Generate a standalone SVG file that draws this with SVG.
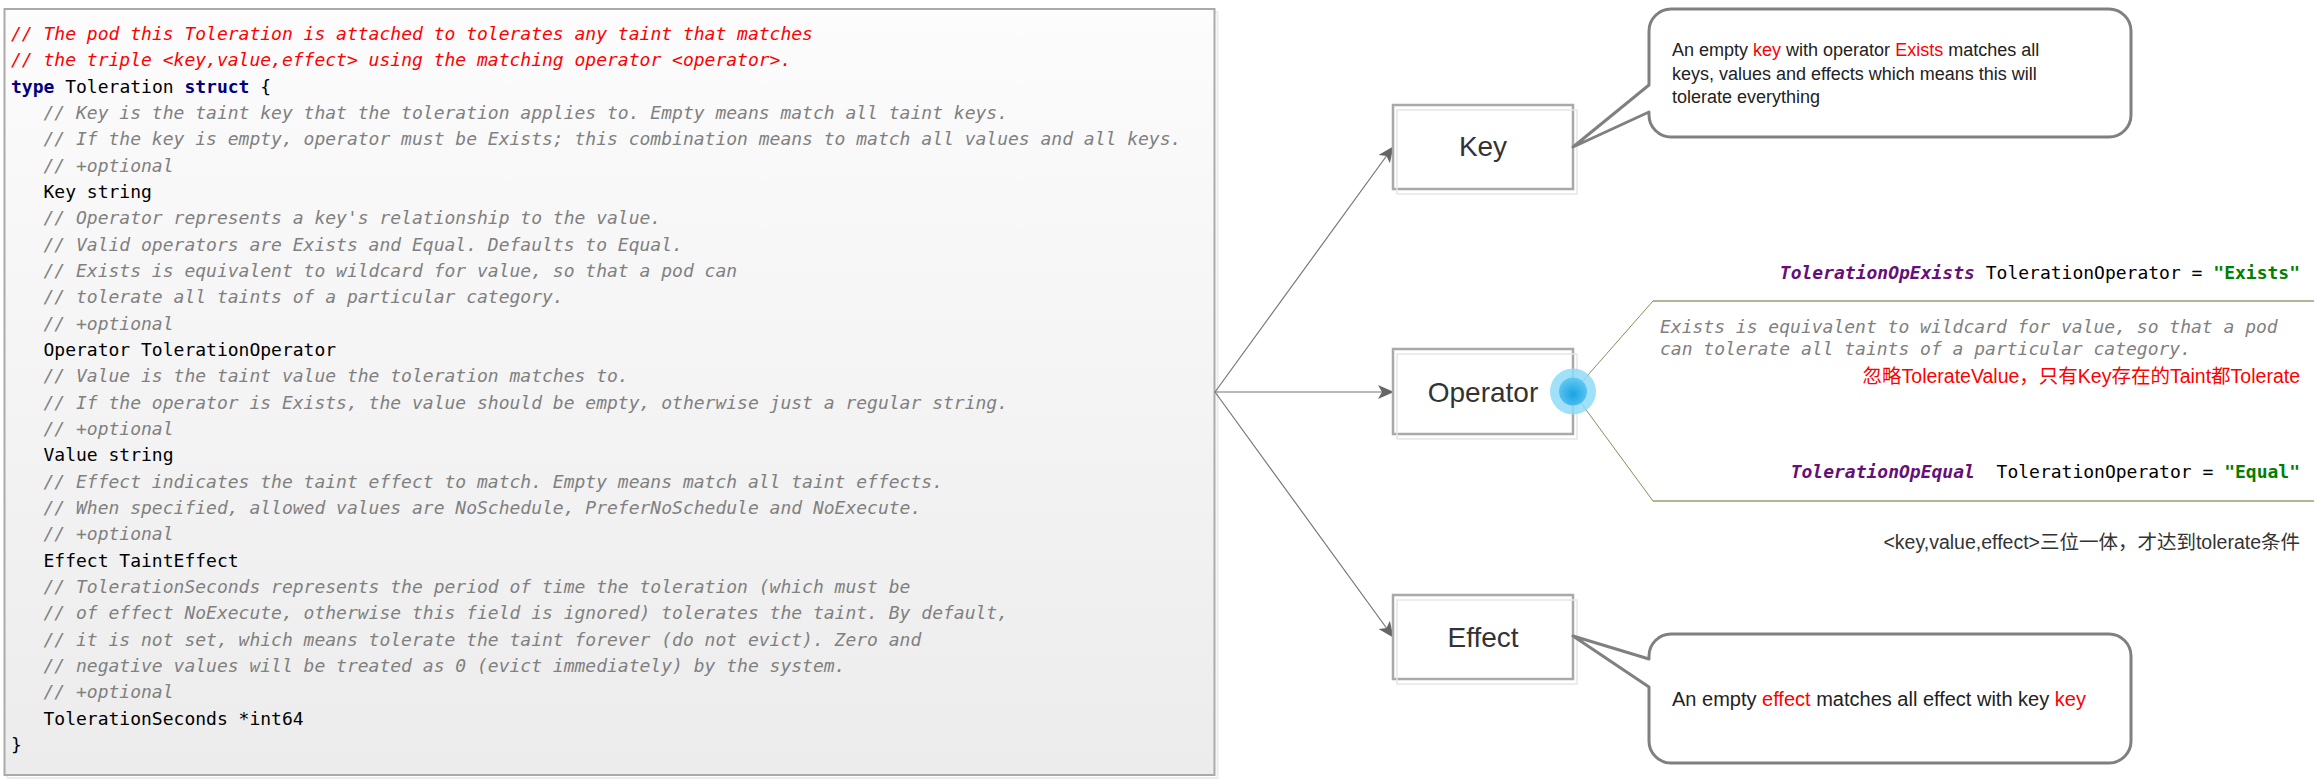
<svg xmlns="http://www.w3.org/2000/svg" width="2314" height="780" viewBox="0 0 2314 780">
<style>
.code{font-family:"DejaVu Sans Mono","Liberation Mono",monospace;font-size:18px;fill:#000}
.red{fill:#ff0000;font-style:italic}
.cm{fill:#808080;font-style:italic}
.kw{fill:#000080;font-weight:bold}
.cst{fill:#660e7a;font-weight:bold;font-style:italic}
.str{fill:#008000;font-weight:bold}
.node{fill:#ffffff;stroke:#a9a9a9;stroke-width:2.5}
.nshadow{fill:none;stroke:#e6e6e6;stroke-width:1.5}
.label{font-family:"Liberation Sans",Arial,sans-serif;font-size:28px;fill:#333333;text-anchor:middle}
.callout{fill:#ffffff;stroke:#808080;stroke-width:3;stroke-linejoin:round}
.ctext{font-family:"Liberation Sans",Arial,sans-serif;font-size:18px;fill:#222222}
.ctext20{font-family:"Liberation Sans",Arial,sans-serif;font-size:20px;fill:#222222}
.hl{fill:#ff0000}
.conn{fill:none;stroke:#777777;stroke-width:1.2}
.brd{fill:none;stroke:#85905a;stroke-width:1}
.brh{fill:none;stroke:#b1b695;stroke-width:2}
.cjk{font-family:"Liberation Sans","Noto Sans CJK SC",sans-serif;font-size:19.5px;text-anchor:end}
</style>
<defs>
<linearGradient id="codebg" x1="0" y1="0" x2="0" y2="1">
<stop offset="0" stop-color="#fcfcfc"/>
<stop offset="1" stop-color="#ececec"/>
</linearGradient>
<radialGradient id="dot" cx="0.5" cy="0.6" r="0.6">
<stop offset="0" stop-color="#1aa3e2"/>
<stop offset="1" stop-color="#62c9f2"/>
</radialGradient>
<marker id="arr" viewBox="0 0 16 14" refX="15" refY="7" markerWidth="16" markerHeight="14" markerUnits="userSpaceOnUse" orient="auto">
<path d="M0,0 L16,7 L0,14 L4,7 Z" fill="#666666"/>
</marker>
</defs>
<rect width="2314" height="780" fill="#ffffff"/>

<g id="code-block">
<rect x="7.5" y="12" width="1210" height="766" fill="none" stroke="#ececec" stroke-width="2"/>
<rect x="4.5" y="9" width="1210" height="766" fill="url(#codebg)" stroke="#aaaaaa" stroke-width="2"/>
<g class="code">
<text x="11" y="40" class="red">// The pod this Toleration is attached to tolerates any taint that matches</text>
<text x="11" y="66.3" class="red">// the triple &lt;key,value,effect&gt; using the matching operator &lt;operator&gt;.</text>
<text x="11" y="92.7"><tspan class="kw">type</tspan> Toleration <tspan class="kw">struct</tspan> {</text>
<text x="43.5" y="119" class="cm">// Key is the taint key that the toleration applies to. Empty means match all taint keys.</text>
<text x="43.5" y="145.3" class="cm">// If the key is empty, operator must be Exists; this combination means to match all values and all keys.</text>
<text x="43.5" y="171.7" class="cm">// +optional</text>
<text x="43.5" y="198">Key string</text>
<text x="43.5" y="224.3" class="cm">// Operator represents a key's relationship to the value.</text>
<text x="43.5" y="250.6" class="cm">// Valid operators are Exists and Equal. Defaults to Equal.</text>
<text x="43.5" y="277" class="cm">// Exists is equivalent to wildcard for value, so that a pod can</text>
<text x="43.5" y="303.3" class="cm">// tolerate all taints of a particular category.</text>
<text x="43.5" y="329.6" class="cm">// +optional</text>
<text x="43.5" y="356">Operator TolerationOperator</text>
<text x="43.5" y="382.3" class="cm">// Value is the taint value the toleration matches to.</text>
<text x="43.5" y="408.6" class="cm">// If the operator is Exists, the value should be empty, otherwise just a regular string.</text>
<text x="43.5" y="435" class="cm">// +optional</text>
<text x="43.5" y="461.3">Value string</text>
<text x="43.5" y="487.6" class="cm">// Effect indicates the taint effect to match. Empty means match all taint effects.</text>
<text x="43.5" y="514" class="cm">// When specified, allowed values are NoSchedule, PreferNoSchedule and NoExecute.</text>
<text x="43.5" y="540.3" class="cm">// +optional</text>
<text x="43.5" y="566.6">Effect TaintEffect</text>
<text x="43.5" y="593" class="cm">// TolerationSeconds represents the period of time the toleration (which must be</text>
<text x="43.5" y="619.3" class="cm">// of effect NoExecute, otherwise this field is ignored) tolerates the taint. By default,</text>
<text x="43.5" y="645.6" class="cm">// it is not set, which means tolerate the taint forever (do not evict). Zero and</text>
<text x="43.5" y="672" class="cm">// negative values will be treated as 0 (evict immediately) by the system.</text>
<text x="43.5" y="698.3" class="cm">// +optional</text>
<text x="43.5" y="724.6">TolerationSeconds *int64</text>
<text x="11" y="751">}</text>
</g>
</g>

<g id="connectors">
<line class="conn" x1="1215" y1="392" x2="1393" y2="147" marker-end="url(#arr)"/>
<line class="conn" x1="1215" y1="392" x2="1393" y2="392" marker-end="url(#arr)"/>
<line class="conn" x1="1215" y1="392" x2="1393" y2="637" marker-end="url(#arr)"/>
<line class="brd" x1="1573" y1="392" x2="1653" y2="301"/>
<line class="brd" x1="1573" y1="392" x2="1653" y2="501"/>
<line class="brh" x1="1653" y1="301" x2="2314" y2="301"/>
<line class="brh" x1="1653" y1="501" x2="2314" y2="501"/>
</g>

<g id="node-key">
<rect class="node" x="1393" y="105" width="180" height="84"/>
<rect class="nshadow" x="1397" y="110" width="180" height="84"/>
<text class="label" x="1483" y="156">Key</text>
</g>

<g id="node-operator">
<rect class="node" x="1393" y="349" width="180" height="85"/>
<rect class="nshadow" x="1397" y="354" width="180" height="85"/>
<text class="label" x="1483" y="401.5">Operator</text>
<circle cx="1573" cy="391.5" r="23" fill="#8fdaf7" fill-opacity="0.85"/>
<circle cx="1573" cy="391.5" r="14" fill="url(#dot)"/>
</g>

<g id="node-effect">
<rect class="node" x="1393" y="595" width="180" height="84"/>
<rect class="nshadow" x="1397" y="600" width="180" height="84"/>
<text class="label" x="1483" y="647">Effect</text>
</g>

<g id="callout-key">
<path class="callout" d="M1671,9 H2109 A22,22 0 0 1 2131,31 V115 A22,22 0 0 1 2109,137 H1671 A22,22 0 0 1 1649,115 V112 L1573,147 L1649,85 V31 A22,22 0 0 1 1671,9 Z"/>
<text class="ctext" x="1672" y="56">An empty <tspan class="hl">key</tspan> with operator <tspan class="hl">Exists</tspan> matches all</text>
<text class="ctext" x="1672" y="79.5">keys, values and effects which means this will</text>
<text class="ctext" x="1672" y="103">tolerate everything</text>
</g>

<g id="callout-effect">
<path class="callout" d="M1671,634 H2109 A22,22 0 0 1 2131,656 V741 A22,22 0 0 1 2109,763 H1671 A22,22 0 0 1 1649,741 V687 L1573,636 L1649,659 V656 A22,22 0 0 1 1671,634 Z"/>
<text class="ctext20" x="1672" y="706">An empty <tspan class="hl">effect</tspan> matches all effect with key <tspan class="hl">key</tspan></text>
</g>

<g id="operator-notes">
<text class="code" x="2300" y="279" text-anchor="end"><tspan class="cst">TolerationOpExists</tspan> TolerationOperator = <tspan class="str">"Exists"</tspan></text>
<text class="code cm" x="1660" y="333">Exists is equivalent to wildcard for value, so that a pod</text>
<text class="code cm" x="1660" y="355">can tolerate all taints of a particular category.</text>
<text class="cjk" x="2300" y="383" fill="#ff0000">忽略TolerateValue，只有Key存在的Taint都Tolerate</text>
<text class="code" x="2300" y="478" text-anchor="end" xml:space="preserve"><tspan class="cst">TolerationOpEqual</tspan>  TolerationOperator = <tspan class="str">"Equal"</tspan></text>
<text class="cjk" x="2300" y="549" fill="#333333">&lt;key,value,effect&gt;三位一体，才达到tolerate条件</text>
</g>
</svg>
